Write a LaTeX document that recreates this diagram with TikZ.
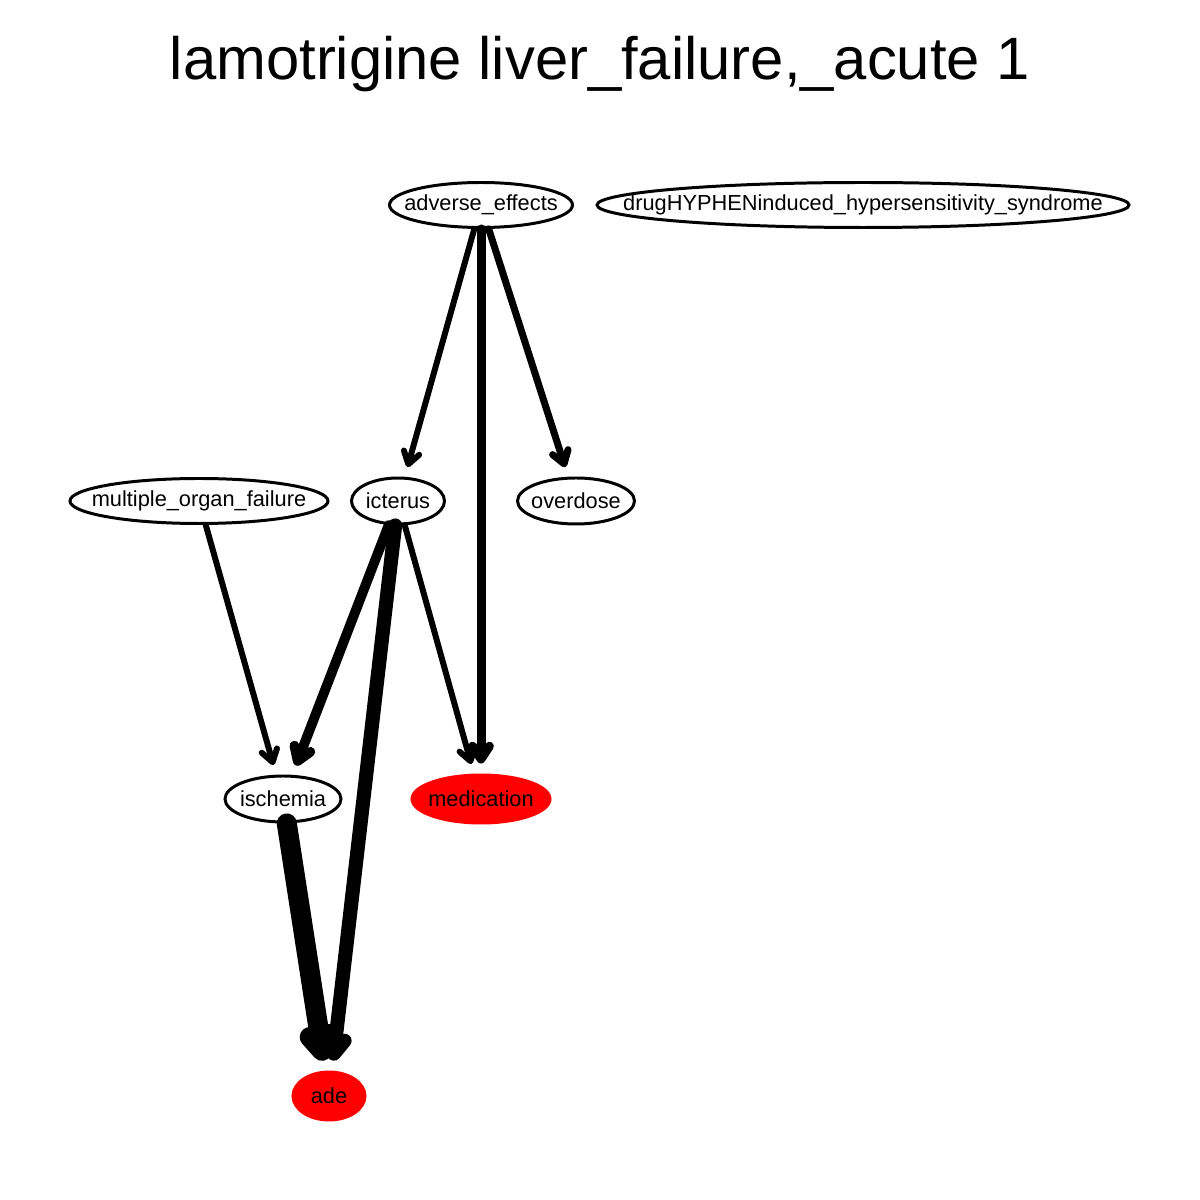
\documentclass[tikz,border=0pt]{standalone}
\usepackage{fontspec}
\setmainfont{Liberation Sans}
\usetikzlibrary{arrows.meta,shapes.geometric}

\begin{document}
\begin{tikzpicture}[
  vtx/.style={draw,ellipse,line width=0.85pt,fill=white,inner sep=0pt,
    minimum height=0.45cm,label={[font=\fontsize{6.2}{7}\selectfont]center:#1}},
  adevtx/.style={vtx=#1,draw=red,fill=red,minimum height=0.48cm},
  lnk/.style={line cap=round,shorten >=0.1cm,
    -{Straight Barb[length=3pt 0.25,width=4pt 0.3,round]}}]
  \useasboundingbox (0,0) rectangle (12,12);
  \node[font=\fontsize{17}{20}\selectfont] (title) at (6,11.36) {lamotrigine liver\_failure,\_acute 1};
  % Vertices
  \node[vtx=adverse\_effects,minimum width=1.83cm] (adv) at (4.81,9.95) {};
  \node[vtx=drugHYPHENinduced\_hypersensitivity\_syndrome,minimum width=5.32cm] (dihs) at (8.63,9.95) {};
  \node[vtx=multiple\_organ\_failure,minimum width=2.58cm] (mof) at (1.99,6.99) {};
  \node[vtx=icterus,minimum width=0.93cm,minimum height=0.46cm] (ict) at (3.98,6.99) {};
  \node[vtx=overdose,minimum width=1.17cm,minimum height=0.46cm] (ovd) at (5.76,6.99) {};
  \node[vtx=ischemia,minimum width=1.16cm,minimum height=0.46cm] (isc) at (2.83,4.01) {};
  \node[adevtx=medication,minimum width=1.38cm] (med) at (4.81,4.01) {};
  \node[adevtx=ade,minimum width=0.72cm] (ade) at (3.29,1.04) {};
  % Edges
  \draw[lnk,line width=1.7pt] (adv) -- (ict);
  \draw[lnk,line width=2.56pt] (adv) -- (med);
  \draw[lnk,line width=2pt] (adv) -- (ovd);
  \draw[lnk,line width=1.7pt] (mof) -- (isc);
  \draw[lnk,line width=2.8pt] (ict) -- (isc);
  \draw[lnk,line width=4pt] (ict) -- (ade);
  \draw[lnk,line width=1.7pt] (ict) -- (med);
  \draw[lnk,line width=5.7pt] (isc) -- (ade);
\end{tikzpicture}
\end{document}
